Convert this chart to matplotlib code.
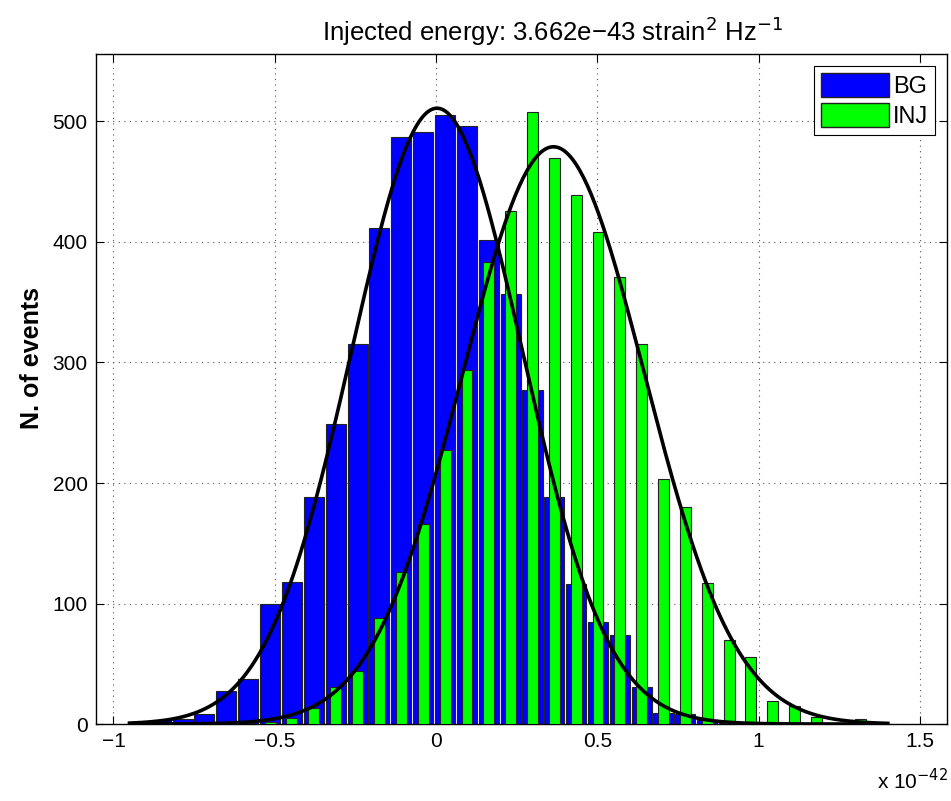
import numpy as np
import matplotlib.pyplot as plt
from matplotlib.patches import Patch

plt.rcParams["font.family"] = ["Liberation Sans", "DejaVu Sans"]

# bin centres (units of 1e-42), shared by both histograms
bin_centers = [-0.921, -0.853, -0.785, -0.718, -0.650, -0.582, -0.514, -0.447, -0.379,
               -0.311, -0.243, -0.176, -0.108, -0.040, 0.028, 0.096, 0.163, 0.231,
               0.299, 0.367, 0.434, 0.502, 0.570, 0.638, 0.705, 0.773, 0.841,
               0.909, 0.976, 1.044, 1.112, 1.180, 1.247, 1.315]
bin_width = 0.0678

bg_counts = [2, 3, 4, 8, 27, 37, 100, 118, 188, 249, 315, 412, 487, 491, 505, 496,
             402, 357, 277, 188, 116, 85, 74, 31, 9, 8, 3, 1, 0, 0, 0, 0, 0, 0]
inj_counts = [0, 0, 0, 0, 0, 1, 2, 5, 13, 31, 44, 88, 126, 166, 227, 294, 383, 426,
              508, 470, 439, 408, 371, 315, 203, 180, 117, 70, 56, 19, 15, 6, 1, 4]

# gaussian fits: (peak, mean, sigma)
bg_fit = (511, 0.003, 0.2645)
inj_fit = (479, 0.364, 0.282)
fit_range = (-0.95, 1.40)

fig = plt.figure(figsize=(9.51, 8.01), dpi=100)
ax = fig.add_axes([0.101, 0.0961, 0.8948, 0.8365])

ax.bar(bin_centers, bg_counts, width=bin_width * 0.92, color="#0000ff",
       edgecolor="#222222", linewidth=0.8, zorder=2)
ax.bar(bin_centers, inj_counts, width=bin_width * 0.5, color="#00ff00",
       edgecolor="#222222", linewidth=0.8, zorder=3)

xs = np.linspace(fit_range[0], fit_range[1], 400)
for peak, mu, sigma in (bg_fit, inj_fit):
    ax.plot(xs, peak * np.exp(-0.5 * ((xs - mu) / sigma) ** 2), color="black",
            linewidth=2.6, zorder=4)

ax.set_xlim(-1.054, 1.584)
ax.set_ylim(0, 556)
ax.set_xticks([-1, -0.5, 0, 0.5, 1, 1.5])
ax.set_xticklabels(["\u22121", "\u22120.5", "0", "0.5", "1", "1.5"])
ax.set_yticks([0, 100, 200, 300, 400, 500])
ax.tick_params(direction="in", top=True, right=True, length=6, width=0.8,
               labelsize=15, pad=6)
ax.grid(True, linestyle=(0, (1, 4)), color="#555555", linewidth=0.8, zorder=1)
ax.set_axisbelow(True)
for sp in ax.spines.values():
    sp.set_linewidth(1.0)

ax.set_ylabel("N. of events", fontsize=18, fontweight="bold")
ax.yaxis.set_label_coords(-0.061, 0.546)
ax.set_title("Injected energy: 3.662e\u221243 strain$^2$ Hz$^{-1}$", fontsize=18.5,
             x=0.537, pad=9)
fig.text(0.997, 0.010, "x 10$^{-42}$", ha="right", va="bottom", fontsize=15)

handles = [Patch(facecolor="#0000ff", edgecolor="#222222", label="BG"),
           Patch(facecolor="#00ff00", edgecolor="#222222", label="INJ")]
leg = ax.legend(handles=handles, loc="upper right", fontsize=17, fancybox=False,
                framealpha=1, edgecolor="black", handlelength=2.9, handleheight=1.2,
                handletextpad=0.15, borderpad=0.3, labelspacing=0.2, borderaxespad=0.5)
leg.get_frame().set_linewidth(0.8)

fig.savefig("out.png", dpi=100)
